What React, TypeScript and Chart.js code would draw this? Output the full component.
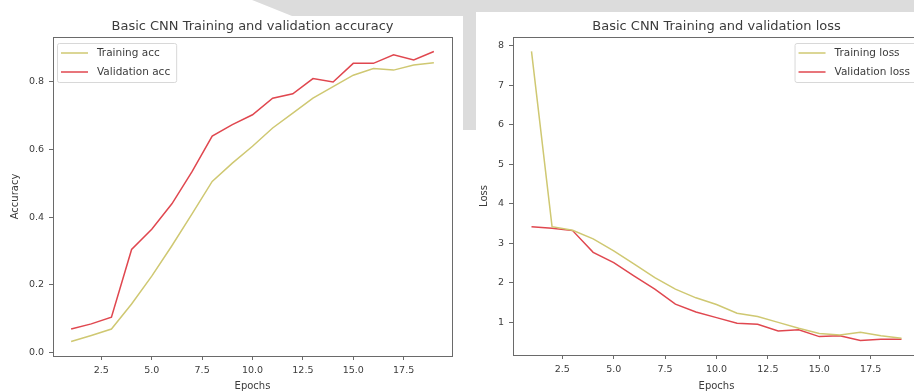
import React, { useEffect, useRef } from 'react';
import { Chart, registerables } from 'chart.js';

Chart.register(...registerables);

// ---------- data ----------
const epochs = [1, 2, 3, 4, 5, 6, 7, 8, 9, 10, 11, 12, 13, 14, 15, 16, 17, 18, 19];
const trainAcc = [0.033, 0.051, 0.07, 0.144, 0.226, 0.316, 0.41, 0.506, 0.56, 0.61, 0.664, 0.708, 0.752, 0.786, 0.82, 0.84, 0.835, 0.85, 0.857];
const valAcc = [0.07, 0.085, 0.105, 0.305, 0.365, 0.44, 0.535, 0.64, 0.674, 0.703, 0.752, 0.765, 0.81, 0.8, 0.855, 0.855, 0.88, 0.865, 0.89];
const trainLoss = [7.85, 3.42, 3.33, 3.11, 2.81, 2.47, 2.13, 1.84, 1.62, 1.45, 1.23, 1.15, 1.0, 0.85, 0.72, 0.68, 0.75, 0.66, 0.6];
const valLoss = [3.42, 3.38, 3.32, 2.77, 2.51, 2.17, 1.84, 1.46, 1.26, 1.12, 0.98, 0.95, 0.78, 0.81, 0.64, 0.66, 0.54, 0.57, 0.57];
const xTickValues = [2.5, 5, 7.5, 10, 12.5, 15, 17.5];
const accTickValues = [0, 0.2, 0.4, 0.6, 0.8];
const lossTickValues = [1, 2, 3, 4, 5, 6, 7, 8];

const accTitle = 'Basic CNN Training and validation accuracy';
const lossTitle = 'Basic CNN Training and validation loss';
const accLabels = ['Training acc', 'Validation acc'];
const lossLabels = ['Training loss', 'Validation loss'];

// ---------- style ----------
const TRAIN_COLOR = '#cfc872';
const VAL_COLOR = '#e0474f';
const TEXT = '#3c3c3c';
const SPINE = '#6a6a6a';
const FONT = "'DejaVu Sans', sans-serif";

function margins(values: number[]) {
  const lo = Math.min(...values);
  const hi = Math.max(...values);
  const m = (hi - lo) * 0.05;
  return { min: lo - m, max: hi + m };
}

function overlayPlugin(labels: string[], colors: string[], align: 'left' | 'right') {
  return {
    id: 'overlay' + align,
    afterDraw(chart: any) {
      const { ctx, chartArea } = chart;
      ctx.save();
      // spines
      ctx.strokeStyle = SPINE;
      ctx.lineWidth = 1;
      ctx.strokeRect(Math.round(chartArea.left) + 0.5, Math.round(chartArea.top) + 0.5,
        Math.round(chartArea.right - chartArea.left), Math.round(chartArea.bottom - chartArea.top));
      // legend
      ctx.font = `10.5px ${FONT}`;
      const maxW = Math.max(...labels.map((l) => ctx.measureText(l).width));
      const w = 40 + maxW + 6;
      const h = 39;
      const left = align === 'left' ? chartArea.left + 4 : chartArea.right - 4 - w;
      const top = chartArea.top + 6;
      ctx.fillStyle = 'rgba(255,255,255,0.85)';
      ctx.strokeStyle = '#d8d8d8';
      ctx.beginPath();
      ctx.roundRect(left + 0.5, top + 0.5, w, h, 2);
      ctx.fill();
      ctx.stroke();
      labels.forEach((l, i) => {
        const y = top + 10 + i * 19;
        ctx.strokeStyle = colors[i];
        ctx.lineWidth = 1.5;
        ctx.beginPath();
        ctx.moveTo(left + 4, y);
        ctx.lineTo(left + 31, y);
        ctx.stroke();
        ctx.fillStyle = TEXT;
        ctx.textBaseline = 'middle';
        ctx.textAlign = 'left';
        ctx.fillText(l, left + 40, y + 0.5);
      });
      ctx.restore();
    },
  };
}

function buildConfig(opts: {
  title: string;
  yTitle: string;
  train: number[];
  val: number[];
  labels: string[];
  yTicks: number[];
  yFmt: (v: number) => string;
  yWidth: number;
  xHeight: number;
  padRight: number;
  yTitlePad: number;
  legendAlign: 'left' | 'right';
}) {
  const xr = margins(epochs);
  const yr = margins([...opts.train, ...opts.val]);
  return {
    type: 'line' as const,
    data: {
      datasets: [
        {
          label: opts.labels[0],
          data: epochs.map((e, i) => ({ x: e, y: opts.train[i] })),
          borderColor: TRAIN_COLOR,
          borderWidth: 1.5,
          pointRadius: 0,
          tension: 0,
          fill: false,
        },
        {
          label: opts.labels[1],
          data: epochs.map((e, i) => ({ x: e, y: opts.val[i] })),
          borderColor: VAL_COLOR,
          borderWidth: 1.5,
          pointRadius: 0,
          tension: 0,
          fill: false,
        },
      ],
    },
    options: {
      responsive: false,
      animation: false as const,
      devicePixelRatio: 1,
      layout: { padding: { left: 0, top: 0, right: opts.padRight, bottom: 0 } },
      plugins: {
        legend: { display: false },
        tooltip: { enabled: false },
        title: {
          display: true,
          text: opts.title,
          fullSize: false,
          color: TEXT,
          font: { family: FONT, size: 13, weight: 'normal' as const, lineHeight: 1.2 },
          padding: { top: 19, bottom: 2.4 },
        },
      },
      scales: {
        x: {
          type: 'linear' as const,
          min: xr.min,
          max: xr.max,
          afterBuildTicks: (s: any) => {
            s.ticks = xTickValues.map((v) => ({ value: v }));
          },
          afterFit: (s: any) => {
            s.height = opts.xHeight;
          },
          border: { display: false },
          grid: { display: true, drawOnChartArea: false, drawTicks: true, tickLength: 4, color: SPINE },
          ticks: {
            color: TEXT,
            padding: 5,
            maxRotation: 0,
            autoSkip: false,
            font: { family: FONT, size: 9.5 },
            callback: (v: any) => Number(v).toFixed(1),
          },
          title: {
            display: true,
            text: 'Epochs',
            color: TEXT,
            font: { family: FONT, size: 10, lineHeight: 1.2 },
            padding: { top: 0, bottom: 0 },
          },
        },
        y: {
          type: 'linear' as const,
          min: yr.min,
          max: yr.max,
          afterBuildTicks: (s: any) => {
            s.ticks = opts.yTicks.map((v) => ({ value: v }));
          },
          afterFit: (s: any) => {
            s.width = opts.yWidth;
          },
          border: { display: false },
          grid: { display: true, drawOnChartArea: false, drawTicks: true, tickLength: 4, color: SPINE },
          ticks: {
            color: TEXT,
            padding: 5,
            autoSkip: false,
            font: { family: FONT, size: 9.5 },
            callback: (v: any) => opts.yFmt(Number(v)),
          },
          title: {
            display: true,
            text: opts.yTitle,
            color: TEXT,
            font: { family: FONT, size: 10, lineHeight: 1.2 },
            padding: { top: opts.yTitlePad, bottom: 0 },
          },
        },
      },
    },
    plugins: [overlayPlugin(opts.labels, [TRAIN_COLOR, VAL_COLOR], opts.legendAlign)],
  };
}

function ChartCanvas({ config, width, height, left }: { config: () => any; width: number; height: number; left: number }) {
  const ref = useRef<HTMLCanvasElement | null>(null);
  useEffect(() => {
    if (!ref.current) return;
    const chart = new Chart(ref.current, config());
    return () => chart.destroy();
  }, []);
  return (
    <canvas
      ref={ref}
      width={width}
      height={height}
      style={{ position: 'absolute', left, top: 0, width, height, display: 'block' }}
    />
  );
}

export default function App() {
  return (
    <div
      style={{
        position: 'fixed',
        left: 0,
        top: 0,
        width: 914,
        height: 392,
        overflow: 'hidden',
        background: '#ffffff',
      }}
    >
      <div
        style={{
          position: 'absolute',
          left: 0,
          top: 0,
          width: 914,
          height: 392,
          background: '#dcdcdc',
          clipPath:
            'polygon(252px 0, 914px 0, 914px 12px, 476px 12px, 476px 130px, 463px 130px, 463px 16px, 292px 16px)',
        }}
      />
      <ChartCanvas
        left={0}
        width={460}
        height={392}
        config={() =>
          buildConfig({
            title: accTitle,
            yTitle: 'Accuracy',
            train: trainAcc,
            val: valAcc,
            labels: accLabels,
            yTicks: accTickValues,
            yFmt: (v) => v.toFixed(1),
            yWidth: 53,
            xHeight: 36,
            padRight: 8,
            yTitlePad: 9,
            legendAlign: 'left',
          })
        }
      />
      <ChartCanvas
        left={454}
        width={470}
        height={392}
        config={() =>
          buildConfig({
            title: lossTitle,
            yTitle: 'Loss',
            train: trainLoss,
            val: valLoss,
            labels: lossLabels,
            yTicks: lossTickValues,
            yFmt: (v) => String(Math.round(v)),
            yWidth: 59,
            xHeight: 37,
            padRight: 4,
            yTitlePad: 24,
            legendAlign: 'right',
          })
        }
      />
    </div>
  );
}
